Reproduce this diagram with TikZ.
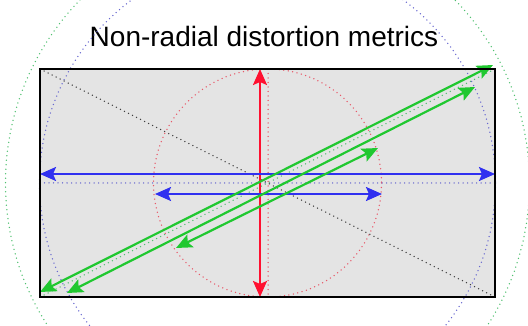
\documentclass[tikz,border=0pt]{standalone}
\usepackage{fontspec}
\setmainfont{Liberation Sans}
\usetikzlibrary{arrows.meta}
\definecolor{bgray}{HTML}{E4E4E4}
\definecolor{ared}{HTML}{FF1030}
\definecolor{ablue}{HTML}{3030F0}
\definecolor{agreen}{HTML}{20C830}
\definecolor{dred}{HTML}{E85868}
\definecolor{dblue}{HTML}{6868D0}
\definecolor{dgreen}{HTML}{50C070}
\definecolor{dgray}{HTML}{404040}
\tikzset{
  dotline/.style={line width=1.5pt, line cap=round, dash pattern=on 0pt off 4.5pt},
  metric/.style={line width=2.2pt, {Stealth[length=16pt,width=14pt,inset=3pt]}-{Stealth[length=16pt,width=14pt,inset=3pt]}},
  frame/.style={draw=black, line width=2.6pt}
}
\begin{document}
\begin{tikzpicture}[x=1pt,y=-1pt]
\useasboundingbox (0,0) rectangle (528,326);
\clip (0,0) rectangle (528,326);
% rectangle corners and center
\coordinate (TL) at (40,69);
\coordinate (TR) at (495,69);
\coordinate (BL) at (40,297);
\coordinate (BR) at (495,297);
\coordinate (C) at (267.5,183);
\fill[bgray] (TL) rectangle (BR);
% title
\node (title) at (264,36) {\fontsize{28}{32}\selectfont Non-radial distortion metrics};
% dotted circles
\draw[dotline, dred] (C) circle[radius=114];
\draw[dotline, dblue] (C) circle[radius=228];
\draw[dotline, dgreen] (C) circle[radius=262];
% dotted reference lines
\coordinate (Vt) at (268,69);
\coordinate (Vb) at (268,297);
\coordinate (Hl) at (40,183);
\coordinate (Hr) at (495,183);
\draw[dotline, dred] (Vt) -- (Vb);
\draw[dotline, dblue] (Hl) -- (Hr);
\draw[dotline, dgray] (TL) -- (BR);
\draw[dotline, dgreen] (BL) -- (TR);
% metric arrows
\coordinate (rt) at (260,69);
\coordinate (rb) at (260,297);
\draw[metric, ared] (rb) -- (rt);
\coordinate (b1l) at (40,174);
\coordinate (b1r) at (495,174);
\draw[metric, ablue] (b1l) -- (b1r);
\coordinate (b2l) at (155,194);
\coordinate (b2r) at (382,194);
\draw[metric, ablue] (b2l) -- (b2r);
\coordinate (g1a) at (40,292);
\coordinate (g1b) at (493,65);
\draw[metric, agreen] (g1a) -- (g1b);
\coordinate (g2a) at (67,293);
\coordinate (g2b) at (475,87);
\draw[metric, agreen] (g2a) -- (g2b);
\coordinate (g3a) at (176,248);
\coordinate (g3b) at (378,148);
\draw[metric, agreen] (g3a) -- (g3b);
% frame
\draw[frame] (TL) rectangle (BR);
\end{tikzpicture}
\end{document}
